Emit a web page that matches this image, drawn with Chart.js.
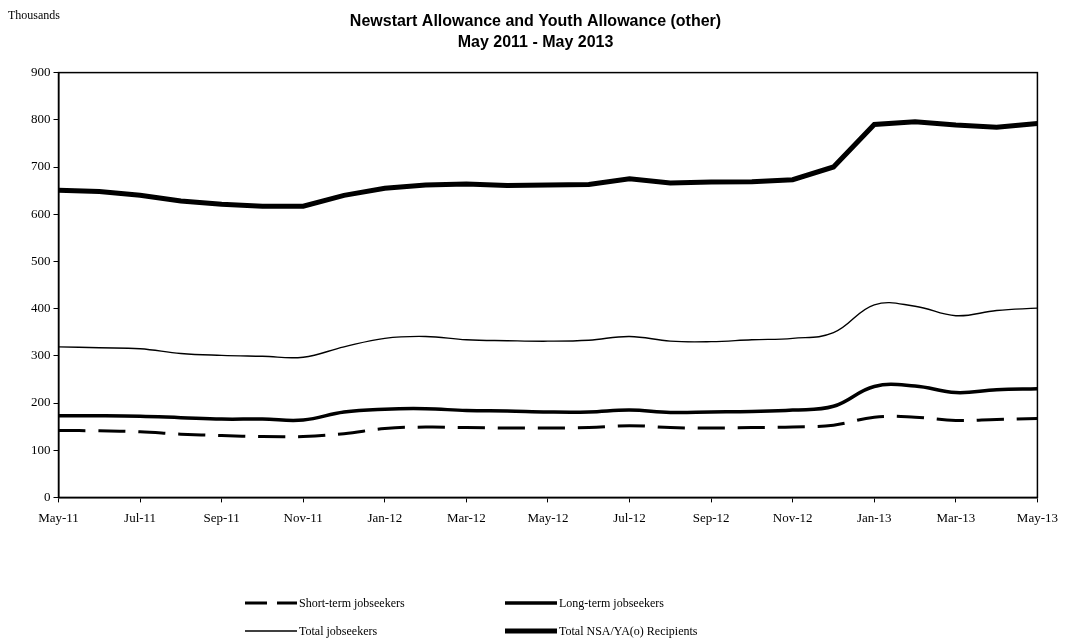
<!DOCTYPE html>
<html>
<head>
<meta charset="utf-8">
<script src="https://cdn.jsdelivr.net/npm/chart.js@4/dist/chart.umd.min.js"></script>
<style>
  body { margin: 0; background: #fff; }
  #wrap { position: relative; width: 1066px; height: 641px; }
  #chart { position: absolute; left: 0; top: 0; }
  .note { position: absolute; font-family: "Liberation Serif", serif; font-size: 12px; color: #000; }
  .leg { position: absolute; font-family: "Liberation Serif", serif; font-size: 12px; color: #000;
         display: flex; align-items: center; white-space: nowrap; }
  .leg svg { margin-right: 2px; }
</style>
</head>
<body>
<div id="wrap">
  <canvas id="chart" width="1066" height="641"></canvas>
  <div class="note" style="left:8px; top:8px;">Thousands</div>
  <div id="legend"></div>
</div>
<script>
// Data (thousands), monthly May-11 .. May-13
const months = ['May-11', 'Jun-11', 'Jul-11', 'Aug-11', 'Sep-11', 'Oct-11', 'Nov-11', 'Dec-11',
    'Jan-12', 'Feb-12', 'Mar-12', 'Apr-12', 'May-12', 'Jun-12', 'Jul-12', 'Aug-12', 'Sep-12',
    'Oct-12', 'Nov-12', 'Dec-12', 'Jan-13', 'Feb-13', 'Mar-13', 'Apr-13', 'May-13'];

const shortTerm = [142, 141, 139, 134, 131, 129, 129, 135, 146, 149, 148, 147, 147,
    148, 152, 148, 147, 148, 149, 153, 170, 170, 163, 165, 167];

const longTerm = [173, 173, 172, 169, 166, 166, 164, 181, 187, 188, 184, 183, 181,
    181, 185, 180, 181, 182, 185, 193, 235, 236, 222, 228, 230];

const totalJobseekers = [319, 317, 315, 305, 301, 299, 297, 319, 337, 341, 334, 332, 331,
    333, 341, 331, 330, 334, 337, 349, 408, 405, 385, 396, 401];

const totalRecipients = [651, 648, 640, 628, 621, 617, 617, 640, 655, 662, 664, 661, 662,
    663, 675, 666, 668, 669, 673, 700, 790, 796, 789, 784, 792];

const yTicks = [0, 100, 200, 300, 400, 500, 600, 700, 800, 900];

// Series look
const series = [
    { label: 'Short-term jobseekers', data: shortTerm, width: 3, dash: [27, 13], tension: 0.4 },
    { label: 'Long-term jobseekers', data: longTerm, width: 3.5, dash: [], tension: 0.4 },
    { label: 'Total jobseekers', data: totalJobseekers, width: 1.4, dash: [], tension: 0.4 },
    { label: 'Total NSA/YA(o) Recipients', data: totalRecipients, width: 5, dash: [], tension: 0 }
];

// Frame around plot area
const frame = {
    id: 'frame',
    afterDatasetsDraw(chart) {
        const { ctx, chartArea: a } = chart;
        ctx.save();
        ctx.strokeStyle = '#000';
        ctx.lineWidth = 1.5;
        ctx.strokeRect(a.left, a.top, a.right - a.left, a.bottom - a.top);
        ctx.restore();
    }
};

const serif = '"Liberation Serif", "Times New Roman", serif';

new Chart(document.getElementById('chart'), {
    type: 'line',
    data: {
        labels: months,
        datasets: series.map(s => ({
            label: s.label,
            data: s.data,
            borderColor: '#000',
            borderWidth: s.width,
            borderDash: s.dash,
            tension: s.tension,
            pointRadius: 0,
            fill: false
        }))
    },
    options: {
        responsive: false,
        animation: false,
        layout: { padding: { left: 28, right: 23, top: 0, bottom: 107 } },
        plugins: {
            legend: { display: false },
            tooltip: { enabled: false },
            title: {
                display: true,
                text: ['Newstart Allowance and Youth Allowance (other)', 'May 2011 - May 2013'],
                color: '#000',
                font: { family: '"Liberation Sans", Arial, sans-serif', size: 16, weight: 'bold', lineHeight: 1.3 },
                padding: { top: 11, bottom: 20 }
            }
        },
        scales: {
            x: {
                offset: false,
                afterBuildTicks: scale => {
                    scale.ticks = scale.ticks.filter((t, i) => i % 2 === 0);
                },
                grid: { drawOnChartArea: false, color: '#000', tickLength: 5, tickWidth: 1 },
                border: { color: '#000', width: 1.5 },
                ticks: {
                    autoSkip: false,
                    maxRotation: 0,
                    color: '#000',
                    padding: 8,
                    font: { family: serif, size: 13 }
                }
            },
            y: {
                min: 0,
                max: 900,
                afterBuildTicks: scale => {
                    scale.ticks = yTicks.map(v => ({ value: v }));
                },
                grid: { drawOnChartArea: false, color: '#000', tickLength: 5, tickWidth: 1 },
                border: { color: '#000', width: 1.5 },
                ticks: {
                    color: '#000',
                    padding: 3,
                    font: { family: serif, size: 13 }
                }
            }
        }
    },
    plugins: [frame]
});

// Legend, 2 x 2 like the original
const legendPos = [
    { left: 245, top: 595 },
    { left: 505, top: 595 },
    { left: 245, top: 623 },
    { left: 505, top: 623 }
];

const legend = document.getElementById('legend');
series.forEach((s, i) => {
    const item = document.createElement('div');
    item.className = 'leg';
    item.style.left = legendPos[i].left + 'px';
    item.style.top = legendPos[i].top + 'px';
    const dash = s.dash.length ? 'stroke-dasharray="22 10"' : '';
    item.innerHTML = `
        <svg width="52" height="16"><line x1="0" y1="8" x2="52" y2="8" stroke="#000"
            stroke-width="${s.width}" ${dash}/></svg>
        <span>${s.label}</span>`;
    legend.appendChild(item);
});
</script>
</body>
</html>
